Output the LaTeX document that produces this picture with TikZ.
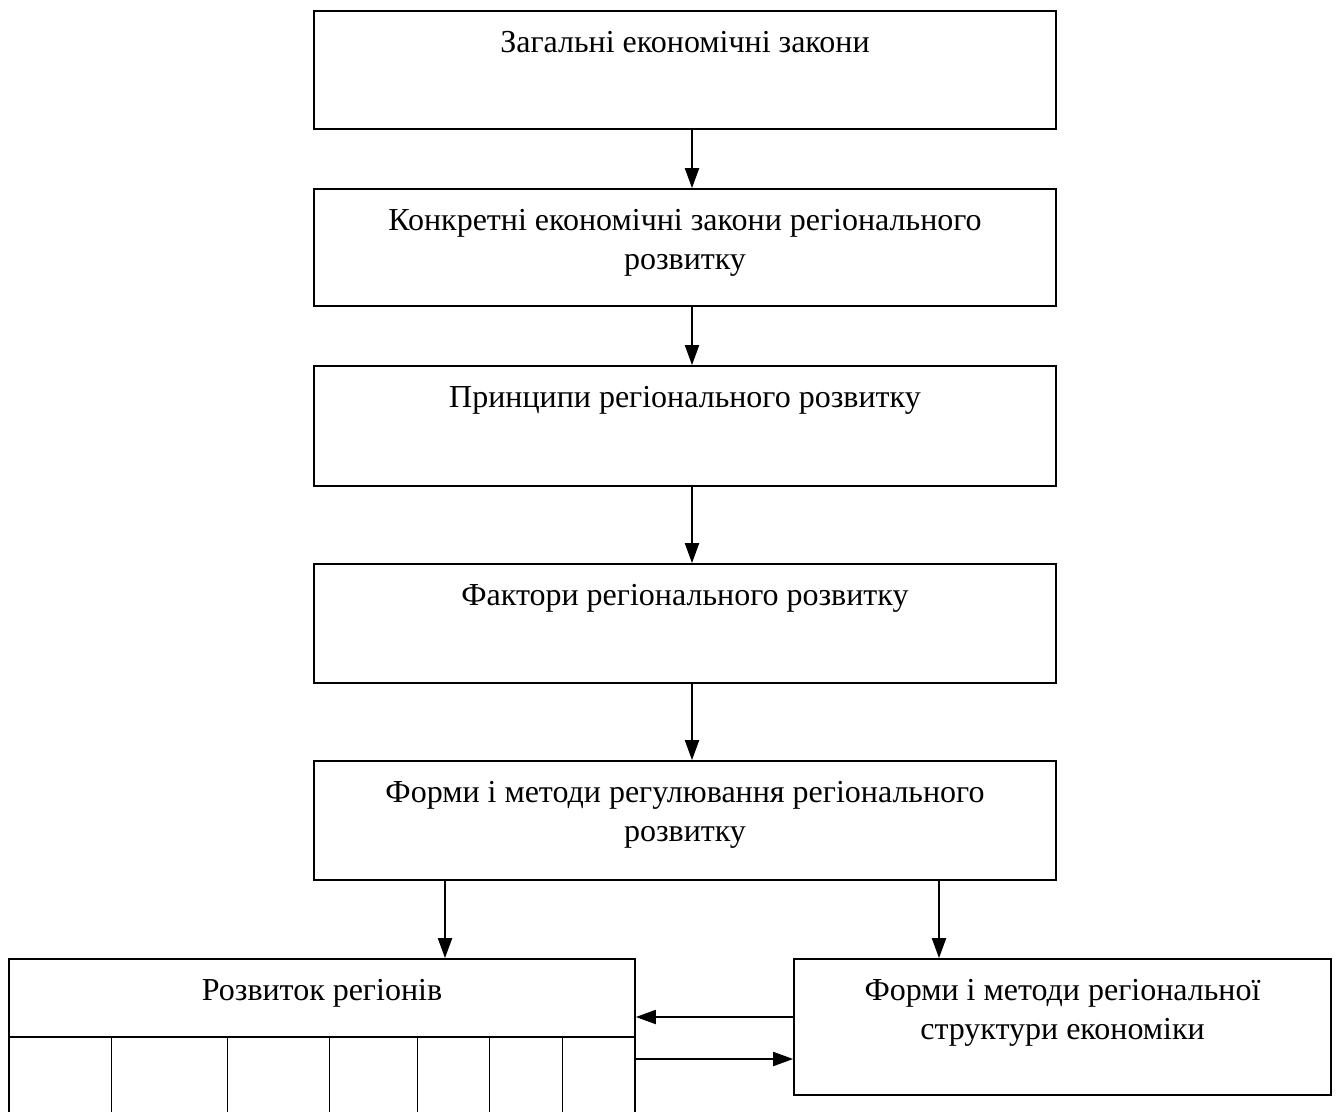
\documentclass[tikz,border=0pt]{standalone}
\usepackage{fontspec}
\setmainfont{Liberation Serif}
\usetikzlibrary{arrows.meta}
\begin{document}
\begin{tikzpicture}[x=0.5pt,y=-0.5pt,
  box/.style={draw, line width=0.85pt, rectangle, inner sep=0pt},
  txt/.style={font=\fontsize{16}{19.5}\selectfont, align=center, inner sep=0pt, anchor=north},
  arr/.style={line width=1pt, -{Triangle[length=10pt,width=7pt]}},
  thinline/.style={line width=0.5pt}
]
\useasboundingbox (0,0) rectangle (1338,1112);
\clip (0,0) rectangle (1338,1112);

\node[box, minimum width=371pt, minimum height=59pt] (b1) at (685,70) {};
\node[box, minimum width=371pt, minimum height=58.5pt] (b2) at (685,247.5) {};
\node[box, minimum width=371pt, minimum height=60pt] (b3) at (685,426) {};
\node[box, minimum width=371pt, minimum height=59.5pt] (b4) at (685,623.5) {};
\node[box, minimum width=371pt, minimum height=59.5pt] (b5) at (685,820.5) {};
\node[box, minimum width=313pt, minimum height=85.5pt] (b6) at (322,1044.5) {};
\node[box, minimum width=268.5pt, minimum height=68pt] (b7) at (1062.5,1027) {};

\node[txt] (t1) at ([yshift=-7.2pt]b1.north) {\strut Загальні економічні закони};
\node[txt] (t2) at ([yshift=-7.2pt]b2.north) {\strut Конкретні економічні закони регіонального\\розвитку};
\node[txt] (t3) at ([yshift=-7.2pt]b3.north) {\strut Принципи регіонального розвитку};
\node[txt] (t4) at ([yshift=-7.2pt]b4.north) {\strut Фактори регіонального розвитку};
\node[txt] (t5) at ([yshift=-7.2pt]b5.north) {\strut Форми і методи регулювання регіонального\\розвитку};
\node[txt] (t6) at ([yshift=-7.2pt]b6.north) {\strut Розвиток регіонів};
\node[txt] (t7) at ([yshift=-7.2pt]b7.north) {\strut Форми і методи регіональної\\структури економіки};

% inner grid of b6
\draw[line width=0.85pt] (9,1037) -- (635,1037);
\foreach \xx in {111,227,329,417,489,562}
  \draw[thinline] (\xx,1037) -- (\xx,1130);

% vertical arrows
\draw[arr] ([xshift=3.5pt]b1.south) -- ([xshift=3.5pt]b2.north);
\draw[arr] ([xshift=3.5pt]b2.south) -- ([xshift=3.5pt]b3.north);
\draw[arr] ([xshift=3.5pt]b3.south) -- ([xshift=3.5pt]b4.north);
\draw[arr] ([xshift=3.5pt]b4.south) -- ([xshift=3.5pt]b5.north);
\draw[arr] ([xshift=-120pt]b5.south) -- ([xshift=-120pt]b5.south |- b6.north);
\draw[arr] ([xshift=127pt]b5.south) -- ([xshift=127pt]b5.south |- b7.north);

% horizontal arrows
\draw[arr] ([yshift=5pt]b7.west) -- ([yshift=5pt]b7.west -| b6.east);
\draw[arr] ([yshift=-16pt]b7.west -| b6.east) -- ([yshift=-16pt]b7.west);
\end{tikzpicture}
\end{document}
